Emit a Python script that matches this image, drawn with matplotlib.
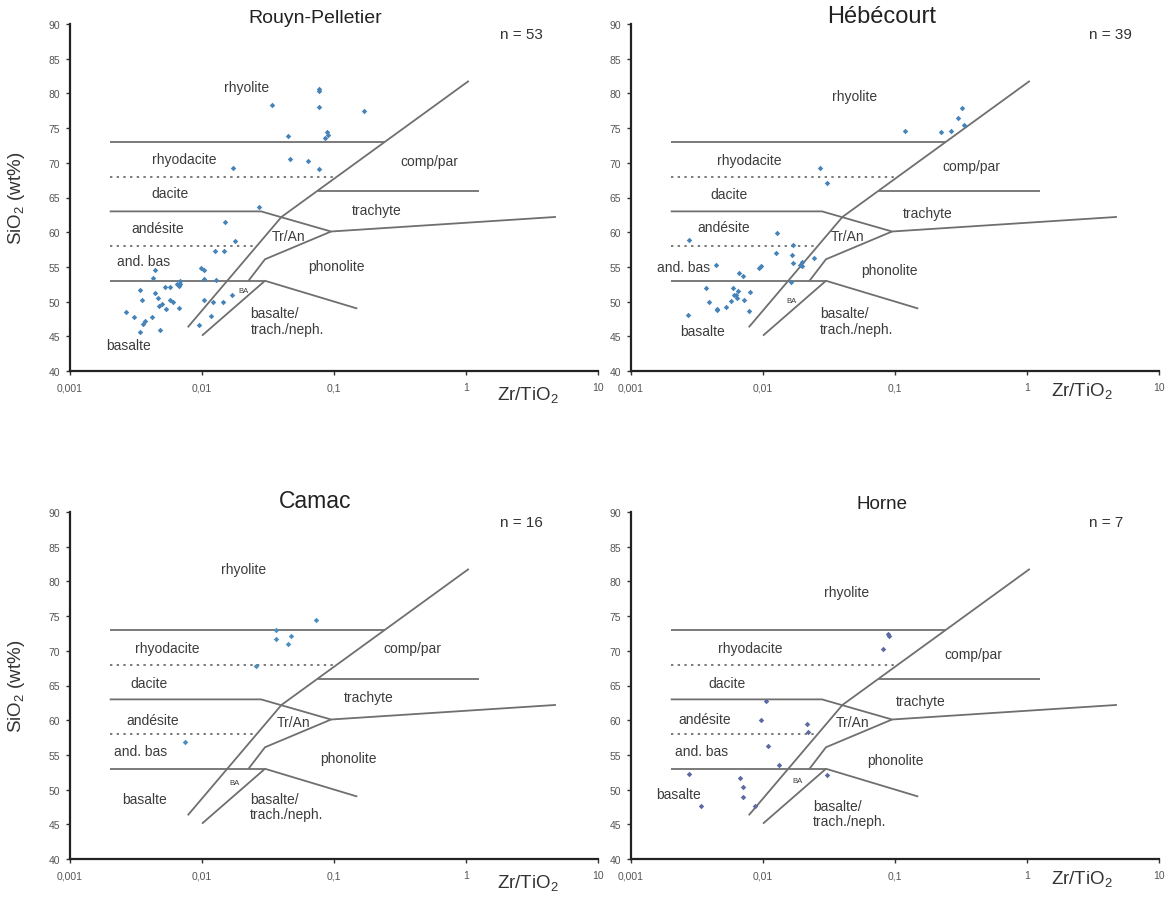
import numpy as np
import matplotlib.pyplot as plt
from matplotlib.ticker import NullLocator

plt.rcParams['font.family'] = ['Liberation Sans', 'DejaVu Sans']
plt.rcParams['mathtext.fontset'] = 'custom'
plt.rcParams['mathtext.rm'] = 'Liberation Sans'

# Zr/TiO2 and SiO2 (wt%) per sector
rp_zr = [0.0775, 0.0775, 0.0339, 0.0775, 0.169, 0.0449, 0.0883, 0.090, 0.085,
         0.0465, 0.0636, 0.0775, 0.0173, 0.0271, 0.0149, 0.0179, 0.0125, 0.0147,
         0.00975, 0.0103, 0.00438, 0.00424, 0.00684, 0.00684, 0.0067, 0.0104,
         0.0127, 0.00526, 0.0057, 0.0034, 0.00438, 0.00461, 0.0035, 0.0057,
         0.00599, 0.0050, 0.0047, 0.0053, 0.0067, 0.0103, 0.0122, 0.0143, 0.017,
         0.00264, 0.00305, 0.0042, 0.0037, 0.0036, 0.0034, 0.0048, 0.0095,
         0.0117, 0.0065]
rp_si = [80.7, 80.3, 78.3, 78.1, 77.5, 73.9, 74.5, 74.0, 73.6,
         70.5, 70.3, 69.1, 69.2, 63.7, 61.4, 58.7, 57.3, 57.3,
         54.9, 54.5, 54.5, 53.4, 52.9, 52.5, 52.2, 53.2,
         53.1, 52.1, 52.1, 51.7, 51.2, 50.5, 50.2, 50.3,
         49.9, 49.6, 49.4, 48.9, 49.1, 50.3, 50.0, 49.9, 50.9,
         48.5, 47.8, 47.8, 47.2, 46.8, 45.6, 45.9, 46.7,
         47.9, 52.6]

hb_zr = [0.120, 0.224, 0.264, 0.321, 0.301, 0.331, 0.0271, 0.0303, 0.00277,
         0.0127, 0.0125, 0.0168, 0.0165, 0.0168, 0.0198, 0.019, 0.0244, 0.00444,
         0.0096, 0.0093, 0.0066, 0.0070, 0.0162, 0.0037, 0.0059, 0.0065, 0.008,
         0.006, 0.0063, 0.0057, 0.0072, 0.0039, 0.0052, 0.0045, 0.0045, 0.0078,
         0.0027, 0.0062, 0.0197]
hb_si = [74.6, 74.4, 74.6, 77.9, 76.4, 75.5, 69.2, 67.1, 58.9,
         59.9, 57.0, 58.1, 56.7, 55.5, 55.7, 55.3, 56.3, 55.3,
         55.1, 54.8, 54.1, 53.7, 52.8, 51.9, 51.9, 51.5, 51.4,
         50.9, 50.5, 50.1, 50.2, 50.0, 49.2, 49.0, 48.8, 48.6,
         48.1, 51.0, 55.2]

cm_zr = [0.0725, 0.0364, 0.0364, 0.0473, 0.045, 0.0257, 0.0074]
cm_si = [74.5, 73.0, 71.7, 72.1, 71.0, 67.8, 56.9]

hn_zr = [0.0883, 0.090, 0.081, 0.0106, 0.0096, 0.0214, 0.022, 0.0109, 0.0133,
         0.00277, 0.0067, 0.0070, 0.0070, 0.0034, 0.0087, 0.0303]
hn_si = [72.4, 72.1, 70.2, 62.8, 60.1, 59.4, 58.3, 56.3, 53.6,
         52.3, 51.6, 50.4, 49.0, 47.7, 47.7, 52.1]

titles = ['Rouyn-Pelletier', 'Hébécourt', 'Camac', 'Horne']
counts = ['n = 53', 'n = 39', 'n = 16', 'n = 7']

# Winchester & Floyd field boundaries (Zr/TiO2, SiO2)
diag_main = [(0.0078, 46.3), (0.040, 62.2), (1.05, 81.8)]
diag_alk = [(0.0100, 45.1), (0.030, 53.0), (0.15, 49.0)]
line_53 = [(0.002, 53.0), (0.030, 53.0)]
tran_low = [(0.0225, 53.0), (0.030, 56.1), (0.095, 60.1)]
line_63 = [(0.002, 63.0), (0.028, 63.0), (0.095, 60.1), (4.8, 62.2)]
line_66_end = 1.25
start_x = 0.002

zones = ['rhyolite', 'rhyodacite', 'dacite', 'andésite', 'and. bas', 'basalte',
         'comp/par', 'trachyte', 'Tr/An', 'phonolite', 'BA']
zone_pos = [
    [(0.0218, 80.9), (0.0074, 70.6), (0.0057, 65.6), (0.0046, 60.6), (0.0036, 55.8),
     (0.0028, 43.7), (0.526, 70.2), (0.21, 63.2), (0.0449, 59.5), (0.104, 55.1),
     (0.0205, 51.6)],
    [(0.0495, 79.6), (0.0078, 70.4), (0.0055, 65.5), (0.005, 60.8), (0.0025, 55.0),
     (0.0035, 45.7), (0.378, 69.5), (0.178, 62.8), (0.0435, 59.4), (0.0905, 54.6),
     (0.0163, 50.2)],
    [(0.0205, 81.8), (0.0055, 70.4), (0.004, 65.3), (0.0042, 60.1), (0.0034, 55.6),
     (0.0037, 48.6), (0.39, 70.4), (0.184, 63.4), (0.0495, 59.8), (0.128, 54.6),
     (0.0176, 51.0)],
    [(0.0428, 78.5), (0.008, 70.4), (0.0053, 65.3), (0.0036, 60.2), (0.0034, 55.5),
     (0.0023, 49.3), (0.39, 69.6), (0.156, 62.7), (0.048, 59.7), (0.1, 54.3),
     (0.0183, 51.25)],
]
btn_pos = [(0.0233, 47.2), (0.0269, 47.2), (0.023, 47.6), (0.024, 46.6)]
title_pos = [(-1.14, 90.9, 14), (-1.10, 91.1, 17), (-1.14, 91.7, 16.5), (-1.10, 91.2, 13.5)]
count_x = [0.42, 0.63, 0.42, 0.60]
xlab_pos = [(0.47, 36.6), (0.42, 37.1), (0.47, 36.6), (0.42, 37.1)]

line_col = '#6f6f6f'
txt_col = '#3c3c3c'


def on_main(y):
    ys = [p[1] for p in diag_main]
    lx = np.log10([p[0] for p in diag_main])
    return 10 ** np.interp(y, ys, lx)


def draw_line(ax, pts, dotted=False):
    xs, ys = zip(*pts)
    ls = (0, (1.3, 2.4)) if dotted else '-'
    ax.plot(xs, ys, color=line_col, lw=1.3, ls=ls, solid_capstyle='butt', zorder=2)


def draw_template(ax, k):
    draw_line(ax, diag_main)
    draw_line(ax, diag_alk)
    draw_line(ax, line_53)
    draw_line(ax, tran_low)
    draw_line(ax, line_63)
    draw_line(ax, [(start_x, 73), (on_main(73), 73)])
    draw_line(ax, [(on_main(66), 66), (line_66_end, 66)])
    draw_line(ax, [(start_x, 68), (on_main(68), 68)], dotted=True)
    draw_line(ax, [(start_x, 58), (on_main(58), 58)], dotted=True)

    for name, (x, y) in zip(zones, zone_pos[k]):
        fs = 5.5 if name == 'BA' else 10
        ax.text(x, y, name, ha='center', va='center', fontsize=fs, color=txt_col)
    bx, by = btn_pos[k]
    ax.text(bx, by, 'basalte/\ntrach./neph.', ha='left', va='center', fontsize=10,
            color=txt_col, linespacing=1.1)


fig = plt.figure(figsize=(11.7, 9.03), dpi=100)
boxes = [(70, 372), (631, 372), (70, 860), (631, 860)]
series = [(rp_zr, rp_si, '#4683b8'), (hb_zr, hb_si, '#4683b8'),
          (cm_zr, cm_si, '#4a8fc0'), (hn_zr, hn_si, '#5b6aa5')]

for k, (x0, y0) in enumerate(boxes):
    ax = fig.add_axes([x0 / 1170, 1 - y0 / 903, 528 / 1170, 347 / 903])
    ax.set_xscale('log')
    ax.set_xlim(0.001, 10)
    ax.set_ylim(40, 90)
    for s in ['top', 'right']:
        ax.spines[s].set_visible(False)
    for s in ['left', 'bottom']:
        ax.spines[s].set_linewidth(1.6)
        ax.spines[s].set_color('#222222')
    ax.set_xticks([0.001, 0.01, 0.1, 1, 10], ['0,001', '0,01', '0,1', '1', '10'])
    ax.xaxis.set_minor_locator(NullLocator())
    ax.set_yticks(range(40, 91, 5))
    ax.tick_params(axis='both', direction='out', length=3, width=1, color='#333333',
                   labelsize=7.5, labelcolor='#555555')
    ax.tick_params(axis='x', pad=5)
    ax.tick_params(axis='y', pad=4)

    draw_template(ax, k)

    zr, si, col = series[k]
    ax.plot(zr, si, 'D', ms=2.8, color=col, mec='none', zorder=3)

    tx, ty, tfs = title_pos[k]
    ax.text(10 ** tx, ty, titles[k], ha='center', va='center', fontsize=tfs,
            color='#222222', clip_on=False)
    ax.text(10 ** count_x[k], 88.5, counts[k], ha='center', va='center',
            fontsize=11, color='#333333')
    lx, ly = xlab_pos[k]
    ax.text(10 ** lx, ly, 'Zr/TiO$_2$', ha='center', va='center', fontsize=13.5,
            color='#333333', clip_on=False)
    if k in (0, 2):
        ax.set_ylabel('SiO$_2$ (wt%)', fontsize=13.5, color='#333333')
        ax.yaxis.set_label_coords(-43 / 528, 0.5)

fig.savefig('out.png', dpi=100)
